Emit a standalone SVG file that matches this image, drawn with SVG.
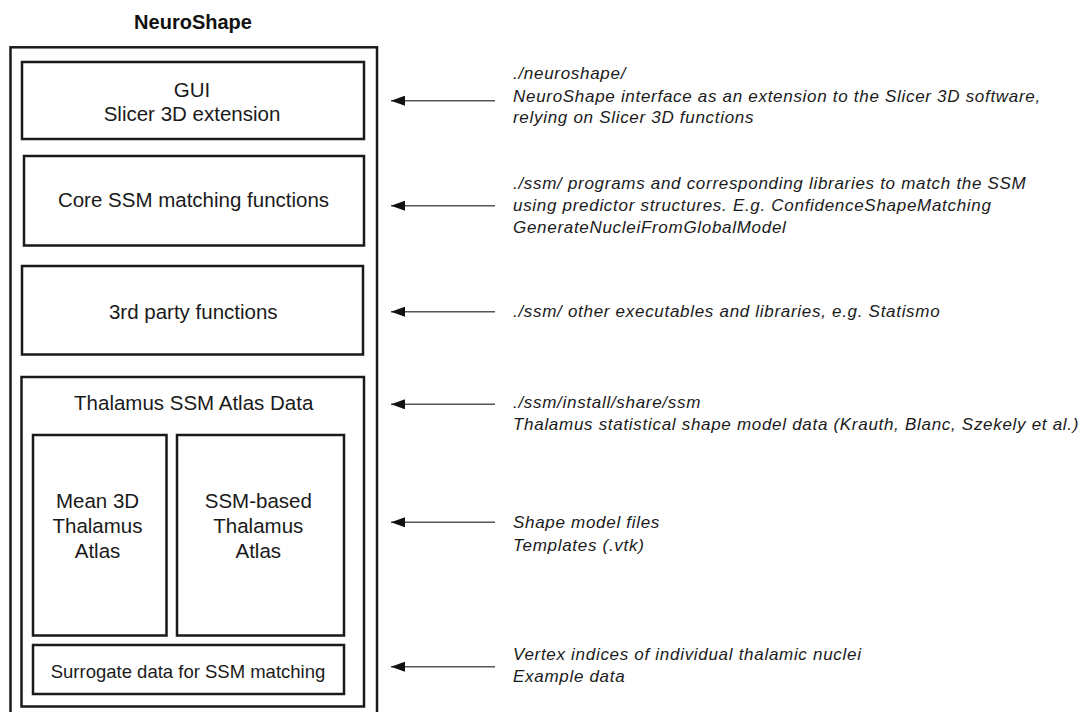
<svg xmlns="http://www.w3.org/2000/svg" width="1084" height="712" viewBox="0 0 1084 712">
<defs>
<style>
.box{fill:#fff;stroke:#1a1a1a;stroke-width:2.5}
.lbl{font-family:"Liberation Sans",Arial,sans-serif;font-size:20.5px;fill:#1a1a1a;text-anchor:middle}
.small{font-size:18.5px}
.title{font-family:"Liberation Sans",Arial,sans-serif;font-size:20px;font-weight:bold;fill:#111;text-anchor:middle}
.note{font-family:"Liberation Sans",Arial,sans-serif;font-size:17px;font-style:italic;letter-spacing:0.7px;fill:#1a1a1a}
.conn{stroke:#555;stroke-width:1.6;fill:none;marker-start:url(#ah)}
</style>
<marker id="ah" viewBox="0 0 14 10" refX="0" refY="5" markerWidth="14" markerHeight="10" markerUnits="userSpaceOnUse" orient="auto">
<path d="M0,5 L14,0 L14,10 Z" fill="#111"/>
</marker>
</defs>
<rect width="1084" height="712" fill="#fff"/>
<g id="neuroshape">
<text class="title" x="193" y="29">NeuroShape</text>
<rect class="box" x="10.5" y="47.3" width="366.5" height="680"/>
</g>
<g id="gui">
<rect class="box" x="22" y="62" width="342" height="77"/>
<text class="lbl" x="192" y="97">GUI</text>
<text class="lbl" x="192" y="121">Slicer 3D extension</text>
</g>
<g id="core">
<rect class="box" x="24" y="156" width="340" height="89.5"/>
<text class="lbl" x="193.5" y="207">Core SSM matching functions</text>
</g>
<g id="thirdparty">
<rect class="box" x="22" y="266" width="341" height="88.5"/>
<text class="lbl" x="193.3" y="319">3rd party functions</text>
</g>
<g id="atlasdata">
<rect class="box" x="21.5" y="377" width="342.5" height="329.5"/>
<text class="lbl" x="193.7" y="410">Thalamus SSM Atlas Data</text>
</g>
<g id="mean">
<rect class="box" x="33" y="435" width="133.5" height="200.5"/>
<text class="lbl" x="97.5" y="508">Mean 3D</text>
<text class="lbl" x="97.5" y="533">Thalamus</text>
<text class="lbl" x="97.5" y="558">Atlas</text>
</g>
<g id="ssmbased">
<rect class="box" x="177" y="435" width="167" height="200.5"/>
<text class="lbl" x="258.3" y="508">SSM-based</text>
<text class="lbl" x="258.3" y="533">Thalamus</text>
<text class="lbl" x="258.3" y="558">Atlas</text>
</g>
<g id="surrogate">
<rect class="box" x="33" y="645" width="311" height="49"/>
<text class="lbl small" x="188" y="678.3">Surrogate data for SSM matching</text>
</g>
<g id="connectors">
<line class="conn" x1="391" y1="100.7" x2="495" y2="100.7"/>
<line class="conn" x1="391" y1="205.7" x2="495" y2="205.7"/>
<line class="conn" x1="391" y1="311.7" x2="495" y2="311.7"/>
<line class="conn" x1="391" y1="404.3" x2="495" y2="404.3"/>
<line class="conn" x1="391" y1="522.3" x2="495" y2="522.3"/>
<line class="conn" x1="391" y1="666.7" x2="495" y2="666.7"/>
</g>
<g id="notes">
<text class="note" x="513" y="79.3">./neuroshape/</text>
<text class="note" x="513" y="101.5">NeuroShape interface as an extension to the Slicer 3D software,</text>
<text class="note" x="513" y="123.3">relying on Slicer 3D functions</text>
<text class="note" x="513" y="189.3">./ssm/ programs and corresponding libraries to match the SSM</text>
<text class="note" x="513" y="211">using predictor structures. E.g. ConfidenceShapeMatching</text>
<text class="note" x="513" y="232.7">GenerateNucleiFromGlobalModel</text>
<text class="note" x="513" y="316.7">./ssm/ other executables and libraries, e.g. Statismo</text>
<text class="note" x="513" y="408.3">./ssm/install/share/ssm</text>
<text class="note" x="513" y="430">Thalamus statistical shape model data (Krauth, Blanc, Szekely et al.)</text>
<text class="note" x="513" y="528.3">Shape model files</text>
<text class="note" x="513" y="551">Templates (.vtk)</text>
<text class="note" x="513" y="660">Vertex indices of individual thalamic nuclei</text>
<text class="note" x="513" y="681.7">Example data</text>
</g>
</svg>
